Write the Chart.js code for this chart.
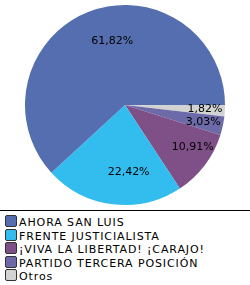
<!DOCTYPE html>
<html>
<head>
<meta charset="utf-8">
<script src="https://cdn.jsdelivr.net/npm/chart.js@4/dist/chart.umd.min.js"></script>
<style>
  body { margin: 0; background: #fff; font-family: "DejaVu Sans", Verdana, sans-serif; }
  #wrap { width: 250px; height: 210px; position: relative; }
  #legend { border-top: 1px solid #000; width: 250px; padding-top: 4px; }
  .item { height: 13.5px; line-height: 13.5px; font-size: 11px; letter-spacing: 0.9px; color: #000; white-space: nowrap; }
  .box { display: inline-block; width: 10px; height: 10px; border: 1px solid #333; border-radius: 2px;
         margin: 0 2px 0 5px; vertical-align: -1px; }
</style>
</head>
<body>
<div id="wrap"><canvas id="pie"></canvas></div>
<div id="legend"></div>
<script>
  let parties = ["AHORA SAN LUIS", "FRENTE JUSTICIALISTA", "¡VIVA LA LIBERTAD! ¡CARAJO!", "PARTIDO TERCERA POSICIÓN", "Otros"];
  let shares = [61.82, 22.42, 10.91, 3.03, 1.82];
  let colors = ["#556eaf", "#33bdee", "#7f5087", "#6c6aa8", "#d3d3d3"];

  // the original runs counter-clockwise from 3 o'clock, chart.js goes clockwise
  let order = parties.map(function (p, i) { return i; }).reverse();

  let pctLabels = {
    id: "pctLabels",
    afterDatasetsDraw: function (chart) {
      let ctx = chart.ctx;
      let meta = chart.getDatasetMeta(0);
      ctx.save();
      ctx.font = "11px 'DejaVu Sans'";
      ctx.fillStyle = "#000";
      ctx.textAlign = "center";
      ctx.textBaseline = "middle";
      meta.data.forEach(function (arc, i) {
        let v = chart.data.datasets[0].data[i];
        let mid = (arc.startAngle + arc.endAngle) / 2;
        let f = v < 15 ? 0.8 : 0.68;
        let x = arc.x + Math.cos(mid) * arc.outerRadius * f;
        let y = arc.y + Math.sin(mid) * arc.outerRadius * f;
        // nudge to where the original puts them
        if (v > 15) x += 12;
        else if (v > 5) { x += 4; y -= 6; }
        ctx.fillText(v.toFixed(2).replace(".", ",") + "%", x, y);
      });
      ctx.restore();
    }
  };

  new Chart(document.getElementById("pie"), {
    type: "pie",
    data: {
      labels: order.map(function (i) { return parties[i]; }),
      datasets: [
        {
          data: order.map(function (i) { return shares[i]; }),
          backgroundColor: order.map(function (i) { return colors[i]; }),
          borderWidth: 0,
        },
      ],
    },
    options: {
      responsive: true,
      maintainAspectRatio: false,
      animation: false,
      rotation: 90,
      layout: { padding: 5 },
      plugins: {
        legend: { display: false },
        tooltip: { enabled: false },
      },
    },
    plugins: [pctLabels],
  });

  parties.forEach(function (p, i) {
    let legendItem = document.createElement("div");
    legendItem.className = "item";
    legendItem.innerHTML = '<span class="box" style="background:' + colors[i] + '"></span>' + p;
    document.getElementById("legend").appendChild(legendItem);
  });
</script>
</body>
</html>
